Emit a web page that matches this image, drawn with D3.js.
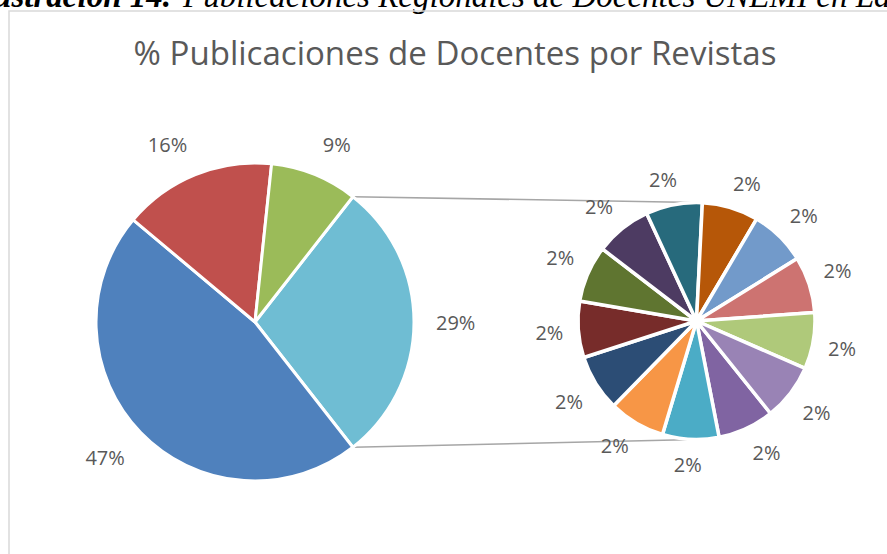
<!DOCTYPE html>
<html>
<head>
<meta charset="utf-8">
<script src="https://cdn.jsdelivr.net/npm/d3@7"></script>
<style>
  html, body { margin: 0; padding: 0; background: #fff; }
  svg { display: block; }
</style>
</head>
<body>
<svg id="chart" width="887" height="554"></svg>
<script>
// main pie: the big three journals, the rest goes into "otros"
const mainNames = ['Revista A', 'Revista B', 'Revista C']
const mainValues = [21, 7, 4]
const mainColors = ['#4F81BD', '#C0504D', '#9BBB59']
const otherColor = '#6FBDD3'

// secondary pie: one publication each
const subNames = ['R4', 'R5', 'R6', 'R7', 'R8', 'R9', 'R10', 'R11', 'R12', 'R13', 'R14', 'R15', 'R16']
const subValues = [1, 1, 1, 1, 1, 1, 1, 1, 1, 1, 1, 1, 1]
const subColors = ['#8064A2', '#4BACC6', '#F79646', '#2C4D75', '#772C2A', '#5F7530', '#4D3B62',
  '#276A7C', '#B65708', '#729ACA', '#CD7371', '#AFC97A', '#9983B5']

const title = '% Publicaciones de Docentes por Revistas'

const svg = d3.select('#chart')
const deg = Math.PI / 180
const fmt = d3.format('.0%')
const labelColor = '#595959'
const font = "'Open Sans', sans-serif"

const otherTotal = d3.sum(subValues)
const total = d3.sum(mainValues) + otherTotal

// caption cut off at the top of the picture
svg.append('text')
  .attr('x', 171).attr('y', 7)
  .attr('text-anchor', 'end')
  .style('font-family', "'Liberation Serif', serif")
  .style('font-style', 'italic').style('font-weight', 'bold')
  .style('font-size', '33px')
  .text('Ilustración 14.')
svg.append('text')
  .attr('x', 183).attr('y', 7)
  .style('font-family', "'Liberation Serif', serif")
  .style('font-style', 'italic')
  .style('font-size', '33px')
  .text('Publicaciones Regionales de Docentes UNEMI en Latinoamérica')

// chart frame
svg.append('rect')
  .attr('x', 9).attr('y', 11)
  .attr('width', 1000).attr('height', 1000)
  .attr('fill', 'none')
  .attr('stroke', '#D9D9D9').attr('stroke-width', 1.5)

const titleEl = svg.append('text')
  .attr('x', 455).attr('y', 65)
  .attr('text-anchor', 'middle')
  .style('font-family', font)
  .style('font-size', '30px')
  .attr('fill', labelColor)
  .text(title)
const tw = titleEl.node().getComputedTextLength()
titleEl.style('font-size', (30 * 643 / tw).toFixed(2) + 'px')

// geometry
const main = { cx: 255, cy: 322, r: 159 }
const sub = { cx: 696.5, cy: 321, r: 118.5 }

const mainData = [{ name: 'Otros', value: otherTotal, color: otherColor }]
  .concat(mainValues.map((v, i) => ({ name: mainNames[i], value: v, color: mainColors[i] })))
const subData = subValues.map((v, i) => ({ name: subNames[i], value: v, color: subColors[i] }))

const otherSpan = otherTotal / total * 360
const mainStart = (90 - otherSpan / 2) * deg
const mainArcs = d3.pie().sort(null).value(d => d.value)
  .startAngle(mainStart).endAngle(mainStart + 2 * Math.PI)(mainData)

const subStart = 141.3 * deg
const subArcs = d3.pie().sort(null).value(d => d.value)
  .startAngle(subStart).endAngle(subStart + 2 * Math.PI)(subData)

// connector lines from the "otros" slice to the secondary pie
const otherArc = mainArcs[0]
const connectors = [
  [otherArc.startAngle, -1],
  [otherArc.endAngle, 1]
]
svg.selectAll('line.conn')
  .data(connectors)
  .join('line')
  .attr('class', 'conn')
  .attr('x1', d => main.cx + main.r * Math.sin(d[0]))
  .attr('y1', d => main.cy - main.r * Math.cos(d[0]))
  .attr('x2', sub.cx)
  .attr('y2', d => sub.cy + d[1] * sub.r)
  .attr('stroke', '#A6A6A6')
  .attr('stroke-width', 1.6)

const drawPie = (g, arcs, geo, strokeW) => {
  const arc = d3.arc().innerRadius(0).outerRadius(geo.r)
  g.attr('transform', `translate(${geo.cx},${geo.cy})`)
  g.selectAll('path')
    .data(arcs)
    .join('path')
    .attr('d', arc)
    .attr('fill', d => d.data.color)
    .attr('stroke', '#fff')
    .attr('stroke-width', strokeW)
    .attr('stroke-linejoin', 'round')
}

const labelPos = (d, geo, pad, hw, hh) => {
  const a = (d.startAngle + d.endAngle) / 2
  const ux = Math.sin(a), uy = -Math.cos(a)
  const clamp = v => Math.max(-1, Math.min(1, v))
  return [
    (geo.r + pad) * ux + hw * clamp(3 * ux),
    (geo.r + pad) * uy + hh * clamp(3 * uy)
  ]
}

const drawLabels = (g, arcs, geo, pad) => {
  g.selectAll('text')
    .data(arcs)
    .join('text')
    .attr('text-anchor', 'middle')
    .attr('dominant-baseline', 'central')
    .style('font-family', font)
    .style('font-size', '20px')
    .attr('fill', labelColor)
    .text(d => fmt(d.data.value / total))
    .each((d, i, nodes) => {
      const hw = nodes[i].getComputedTextLength() / 2
      const p = labelPos(d, geo, pad, hw, 10)
      d3.select(nodes[i]).attr('x', p[0]).attr('y', p[1])
    })
}

const mainG = svg.append('g')
drawPie(mainG, mainArcs, main, 3)
const mainLabels = svg.append('g').attr('transform', `translate(${main.cx},${main.cy})`)
drawLabels(mainLabels, mainArcs, main, 22)

const subG = svg.append('g')
drawPie(subG, subArcs, sub, 3.5)
const subLabels = svg.append('g').attr('transform', `translate(${sub.cx},${sub.cy})`)
drawLabels(subLabels, subArcs, sub, 15)
</script>
</body>
</html>
